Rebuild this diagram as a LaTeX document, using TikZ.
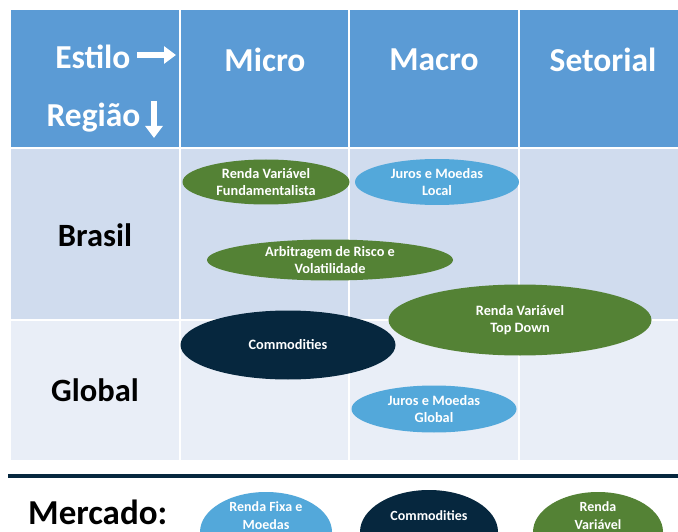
\documentclass[tikz,border=0pt]{standalone}
\usepackage{fontspec}
\setmainfont{Carlito}
\usetikzlibrary{shapes.geometric,arrows.meta}
\definecolor{hdrblue}{HTML}{5B9BD5}
\definecolor{rowA}{HTML}{D0DCEE}
\definecolor{rowB}{HTML}{E9EEF7}
\definecolor{vgreen}{HTML}{548235}
\definecolor{lblue}{HTML}{53A8DA}
\definecolor{navy}{HTML}{06273E}
\tikzset{
  x=1pt, y=-1pt,
  cell/.style={draw=white, line width=1.2pt},
  hdr/.style={text=white, font=\bfseries\fontsize{33.5}{36}\selectfont},
  rowlbl/.style={text=black, font=\bfseries\fontsize{32.5}{34}\selectfont},
  blob/.style={ellipse, inner sep=0pt, text=white, align=center, font=\bfseries\fontsize{14.3}{17}\selectfont},
  shape only/.style={ellipse, inner sep=0pt},
  smalltxt/.style={text=white, align=center, font=\bfseries\fontsize{14}{18}\selectfont},
  warrow/.style={white, line width=5.5pt, -{Triangle[length=12pt,width=17pt]}}
}
\begin{document}
\begin{tikzpicture}
\useasboundingbox (0,0) rectangle (678,532);
\clip (0,0) rectangle (678,532);
\fill[white] (0,0) rectangle (678,532);
% table backgrounds
\fill[hdrblue] (11,10) rectangle (678,148);
\fill[rowA] (11,148) rectangle (678,320);
\fill[rowB] (11,320) rectangle (678,460);
% grid lines
\draw[cell] (180,10) -- (180,460);
\draw[cell] (349,10) -- (349,460);
\draw[cell] (519,10) -- (519,460);
\draw[cell] (11,148) -- (678,148);
\draw[cell] (11,320) -- (678,320);
% header
\node[hdr, anchor=east] (estilo) at (134,57) {Estilo};
\coordinate (ea) at (137,55);
\coordinate (eb) at (176,55);
\draw[warrow] (ea) -- (eb);
\node[hdr, anchor=east] (regiao) at (144,118) {Região};
\coordinate (ra) at (154,101);
\coordinate (rb) at (154,138);
\draw[warrow] (ra) -- (rb);
\node[hdr] (micro) at (265,60) {Micro};
\node[hdr] (macro) at (434,60) {Macro};
\node[hdr] (setorial) at (603,60) {Setorial};
% row labels
\node[rowlbl] (brasil) at (95,235) {Brasil};
\node[rowlbl] (global) at (95,390) {Global};
% ellipses
\node[blob, fill=vgreen, minimum width=167pt, minimum height=45pt] (rvf) at (266,182) {Renda Variável\\Fundamentalista};
\node[blob, fill=lblue, minimum width=164pt, minimum height=46pt] (jml) at (437,182) {Juros e Moedas\\Local};
\node[blob, fill=vgreen, minimum width=246pt, minimum height=41pt] (arb) at (330,260) {Arbitragem de Risco e\\Volatilidade};
\node[blob, fill=vgreen, minimum width=263pt, minimum height=71pt] (rvtd) at (520,320) {Renda Variável\\Top Down};
\node[blob, fill=navy, minimum width=215pt, minimum height=69pt] (comm) at (288,345) {Commodities};
\node[blob, fill=lblue, minimum width=165pt, minimum height=47pt] (jmg) at (434,409) {Juros e Moedas\\Global};
% separator
\coordinate (sl) at (8,476);
\coordinate (sr) at (678,476);
\draw[navy, line width=4.5pt] (sl) -- (sr);
% bottom
\node[font=\bfseries\fontsize{35}{36}\selectfont, anchor=base west, inner sep=0pt] (merc) at (28,524) {Mercado:};
\node[shape only, fill=lblue, minimum width=132pt, minimum height=80pt] (rfm) at (266,532) {};
\node[smalltxt] (rfmt) at (266,516) {Renda Fixa e\\Moedas};
\node[shape only, fill=navy, minimum width=138pt, minimum height=84pt] (comm2) at (429,532) {};
\node[smalltxt] (comm2t) at (429,516) {Commodities};
\node[shape only, fill=vgreen, minimum width=130pt, minimum height=80pt] (rv) at (598,532) {};
\node[smalltxt] (rvt) at (598,516) {Renda\\Variável};
\end{tikzpicture}
\end{document}
